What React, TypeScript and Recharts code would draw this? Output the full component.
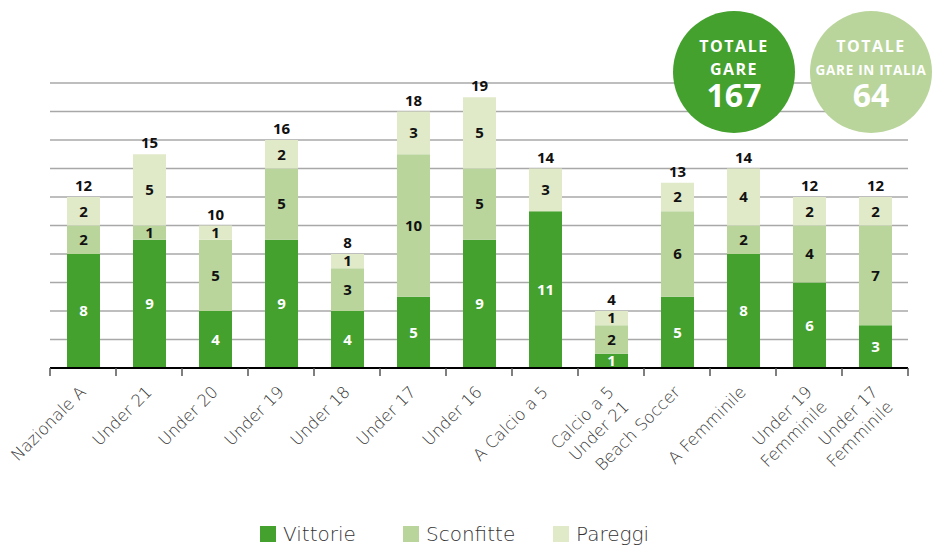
import React from 'react';
import { BarChart, Bar, XAxis, YAxis, CartesianGrid, LabelList } from 'recharts';

const categories = [
	'Nazionale A',
	'Under 21',
	'Under 20',
	'Under 19',
	'Under 18',
	'Under 17',
	'Under 16',
	'A Calcio a 5',
	'Calcio a 5\nUnder 21',
	'Beach Soccer',
	'A Femminile',
	'Under 19\nFemminile',
	'Under 17\nFemminile',
];
const vittorie = [8, 9, 4, 9, 4, 5, 9, 11, 1, 5, 8, 6, 3];
const sconfitte = [2, 1, 5, 5, 3, 10, 5, 0, 2, 6, 2, 4, 7];
const pareggi = [2, 5, 1, 2, 1, 3, 5, 3, 1, 2, 4, 2, 2];
const totali = [12, 15, 10, 16, 8, 18, 19, 14, 4, 13, 14, 12, 12];
const yTicks = [0, 2, 4, 6, 8, 10, 12, 14, 16, 18, 20];
const Y_MAX = 20;
const totaleGare = 167;
const totaleItalia = 64;

const data = categories.map((name, i) => ({
	name,
	vittorie: vittorie[i],
	sconfitte: sconfitte[i],
	pareggi: pareggi[i],
	totale: totali[i],
}));

const W = 933;
const H = 546;
const MARGIN = { top: 83, right: 25, left: 50, bottom: 78 };
const X_AXIS_H = 100;
const AXIS_Y = H - MARGIN.bottom - X_AXIS_H;
const PLOT_H = AXIS_Y - MARGIN.top;
const BAND = (W - MARGIN.left - MARGIN.right) / categories.length;
// grid rows follow the y ticks
const gridRows = yTicks.map(t => AXIS_Y - (t / Y_MAX) * PLOT_H);

const DARK = '#44a12e';
const MID = '#b9d59b';
const LIGHT = '#e0eac8';
const BOLD_FONT = '"Open Sans", sans-serif';
const LIGHT_FONT = '"DejaVu Sans", sans-serif';

const CategoryTick = (props: any) => {
	const { x, payload, index } = props;
	const lines = String(payload.value).split('\n');
	const last = index === categories.length - 1;
	return (
		<g>
			<line x1={x - BAND / 2} x2={x - BAND / 2} y1={AXIS_Y} y2={AXIS_Y + 8} stroke="#555" strokeWidth={1.5} />
			{last && (
				<line x1={x + BAND / 2} x2={x + BAND / 2} y1={AXIS_Y} y2={AXIS_Y + 8} stroke="#555" strokeWidth={1.5} />
			)}
			<text
				transform={`translate(${x + 4},${AXIS_Y + 25}) rotate(-45)`}
				textAnchor="end"
				fill="#333"
				fontSize={16.5}
				fontWeight={300}
				fontFamily={LIGHT_FONT}
			>
				{lines.map((l, i) => (
					<tspan key={i} x={0} dy={i === 0 ? 0 : 21}>
						{l}
					</tspan>
				))}
			</text>
		</g>
	);
};

const hideZero = (v: any) => (v === 0 ? '' : v);

const legendItems = [
	{ label: 'Vittorie', color: DARK, left: 260 },
	{ label: 'Sconfitte', color: MID, left: 403 },
	{ label: 'Pareggi', color: LIGHT, left: 553 },
];

const labelStyle = { fontSize: 15, fontWeight: 700, fontFamily: BOLD_FONT };

export default function App() {
	return (
		<div style={{ position: 'absolute', left: 0, top: 0, width: W, height: H, overflow: 'hidden' }}>
			<BarChart width={W} height={H} data={data} margin={MARGIN}>
				<CartesianGrid vertical={false} stroke="#a8a8a8" strokeWidth={1.5} horizontalPoints={gridRows} />
				<YAxis
					width={0}
					domain={[0, Y_MAX]}
					ticks={yTicks}
					interval={0}
					tick={false}
					tickLine={false}
					axisLine={{ stroke: '#000', strokeWidth: 2 }}
				/>
				<XAxis
					dataKey="name"
					interval={0}
					height={X_AXIS_H}
					tickLine={false}
					axisLine={{ stroke: '#000', strokeWidth: 2 }}
					tick={<CategoryTick />}
				/>
				<Bar dataKey="vittorie" stackId="a" fill={DARK} barSize={33} isAnimationActive={false}>
					<LabelList dataKey="vittorie" position="center" fill="#fff" {...labelStyle} formatter={hideZero} />
				</Bar>
				<Bar dataKey="sconfitte" stackId="a" fill={MID} barSize={33} isAnimationActive={false}>
					<LabelList dataKey="sconfitte" position="center" fill="#111" {...labelStyle} formatter={hideZero} />
				</Bar>
				<Bar dataKey="pareggi" stackId="a" fill={LIGHT} barSize={33} isAnimationActive={false}>
					<LabelList dataKey="pareggi" position="center" fill="#111" {...labelStyle} formatter={hideZero} />
					<LabelList dataKey="totale" position="top" offset={6} fill="#111" {...labelStyle} />
				</Bar>
			</BarChart>
			<svg width={W} height={H} style={{ position: 'absolute', left: 0, top: 0, pointerEvents: 'none' }}>
				<g fontFamily={BOLD_FONT} fontWeight={700} fill="#fff" textAnchor="middle">
					<circle cx={734} cy={72} r={61} fill={DARK} />
					<text x={734} y={52} fontSize={16} letterSpacing={1.5}>TOTALE</text>
					<text x={734} y={75} fontSize={16} letterSpacing={1.5}>GARE</text>
					<text x={734} y={107} fontSize={32}>{totaleGare}</text>
					<circle cx={871} cy={72} r={61} fill={MID} />
					<text x={871} y={52} fontSize={16} letterSpacing={1.5}>TOTALE</text>
					<text x={871} y={75} fontSize={13.5} letterSpacing={0.7}>GARE IN ITALIA</text>
					<text x={871} y={107} fontSize={32}>{totaleItalia}</text>
				</g>
			</svg>
			{legendItems.map(item => (
				<div
					key={item.label}
					style={{ position: 'absolute', left: item.left, top: 524, height: 20, display: 'flex', alignItems: 'center', whiteSpace: 'nowrap' }}
				>
					<div style={{ width: 16, height: 16, background: item.color, marginRight: 7 }} />
					<span style={{ fontSize: 20, lineHeight: '20px', color: '#333', fontFamily: LIGHT_FONT, fontWeight: 300 }}>{item.label}</span>
				</div>
			))}
		</div>
	);
}
